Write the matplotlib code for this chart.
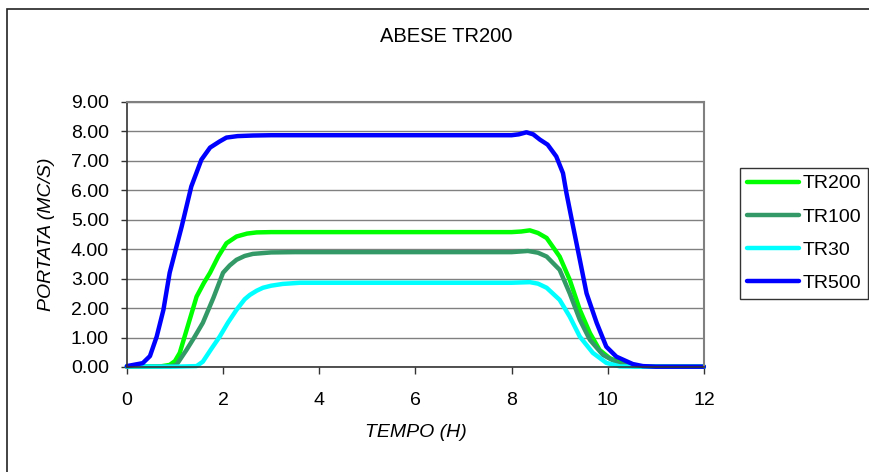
import matplotlib.pyplot as plt
from matplotlib.patches import Rectangle

plt.rcParams['font.family'] = ['Liberation Sans', 'DejaVu Sans']

# idrogrammi di piena: tempo (ore) e portata (mc/s) per tempo di ritorno
t200 = [0, 0.7, 0.89, 1.0, 1.1, 1.25, 1.45, 1.6, 1.73, 1.9, 2.07, 2.28, 2.5, 2.7, 3.0,
        8.0, 8.2, 8.38, 8.55, 8.73, 9.0, 9.21, 9.42, 9.63, 9.83, 10.04, 10.39, 10.7, 12]
q200 = [0.01, 0.02, 0.07, 0.2, 0.48, 1.3, 2.39, 2.85, 3.2, 3.75, 4.2, 4.43, 4.53, 4.57, 4.58,
        4.58, 4.6, 4.64, 4.55, 4.38, 3.75, 2.96, 1.94, 1.15, 0.58, 0.3, 0.07, 0.01, 0.01]

t100 = [0, 0.9, 1.03, 1.24, 1.4, 1.58, 1.8, 2.0, 2.14, 2.28, 2.45, 2.62, 3.0, 3.5,
        8.0, 8.34, 8.55, 8.73, 9.0, 9.21, 9.42, 9.63, 9.9, 10.25, 10.6, 12]
q100 = [0.01, 0.02, 0.07, 0.58, 1.0, 1.5, 2.35, 3.2, 3.45, 3.64, 3.77, 3.84, 3.89, 3.9,
        3.9, 3.94, 3.88, 3.75, 3.3, 2.5, 1.6, 0.92, 0.41, 0.1, 0.01, 0.01]

t30 = [0, 1.0, 1.45, 1.58, 1.75, 1.93, 2.1, 2.28, 2.45, 2.56, 2.7, 2.83, 3.0, 3.24, 3.6,
       8.0, 8.38, 8.55, 8.73, 9.0, 9.21, 9.42, 9.69, 9.97, 10.25, 10.6, 12]
q30 = [0.02, 0.01, 0.03, 0.18, 0.6, 1.03, 1.5, 1.94, 2.3, 2.45, 2.59, 2.69, 2.76, 2.82, 2.86,
       2.86, 2.88, 2.83, 2.69, 2.28, 1.71, 1.03, 0.48, 0.14, 0.02, 0.01, 0.01]

t500 = [0, 0.33, 0.48, 0.62, 0.76, 0.89, 1.14, 1.34, 1.55, 1.73, 1.93, 2.07, 2.3, 2.62, 3.0,
        8.0, 8.15, 8.31, 8.45, 8.59, 8.75, 8.93, 9.07, 9.14, 9.28, 9.42, 9.56, 9.77, 9.97,
        10.18, 10.52, 10.73, 11, 12]
q500 = [0.03, 0.13, 0.37, 1.03, 1.94, 3.2, 4.77, 6.13, 7.04, 7.45, 7.66, 7.79, 7.84, 7.86, 7.87,
        7.87, 7.9, 7.97, 7.9, 7.72, 7.55, 7.15, 6.58, 5.92, 4.77, 3.64, 2.5, 1.5, 0.69,
        0.35, 0.1, 0.03, 0.01, 0.01]

serie = [('TR200', t200, q200, '#00ff00'),
         ('TR100', t100, q100, '#339966'),
         ('TR30', t30, q30, '#00ffff'),
         ('TR500', t500, q500, '#0000ff')]

fig = plt.figure(figsize=(8.69, 4.72), dpi=100)
ax = fig.add_axes([0.146, 0.2225, 0.664, 0.5615])

# cornice esterna del grafico
fig.patches.append(Rectangle((7 / 869, -0.1), 1.2, 1 - 9 / 472 + 0.1,
                             transform=fig.transFigure, fill=False,
                             edgecolor='#222222', linewidth=1.2))

for nome, t, q, colore in serie:
    ax.plot(t, q, color=colore, linewidth=3.2, label=nome,
            solid_joinstyle='round', solid_capstyle='round', clip_on=False)

ax.set_xlim(0, 12)
ax.set_ylim(0, 9)
ax.set_xticks(range(0, 13, 2))
ax.set_yticks(range(0, 10))
ax.set_yticklabels(['%.2f' % v for v in range(0, 10)])
ax.grid(axis='y', color='#808080', linewidth=1)
ax.set_axisbelow(True)

for lato in ['top', 'right']:
    ax.spines[lato].set_color('#808080')
    ax.spines[lato].set_linewidth(1.5)
for lato in ['left', 'bottom']:
    ax.spines[lato].set_color('#333333')
    ax.spines[lato].set_linewidth(1.2)

ax.tick_params(axis='y', direction='out', length=4, width=1, pad=9, labelsize=14, color='#333333')
ax.tick_params(axis='x', direction='out', length=5, width=1, pad=13, labelsize=14, color='#333333')

ax.set_xlabel('TEMPO (H)', fontsize=14, style='italic', labelpad=11)
ax.set_ylabel('PORTATA (MC/S)', fontsize=14, style='italic', labelpad=11)
fig.text(0.514, 1 - 37 / 472, 'ABESE TR200', fontsize=14.5, ha='center', va='center')

leg = ax.legend(loc='upper left', bbox_to_anchor=(740 / 869, 1 - 168 / 472),
                bbox_transform=fig.transFigure, fontsize=14, frameon=True,
                fancybox=False, edgecolor='black', handlelength=2.7,
                handletextpad=0.15, borderpad=0.35, labelspacing=0.8,
                borderaxespad=0)
leg.get_frame().set_linewidth(1)

fig.savefig('out.png', dpi=100)
